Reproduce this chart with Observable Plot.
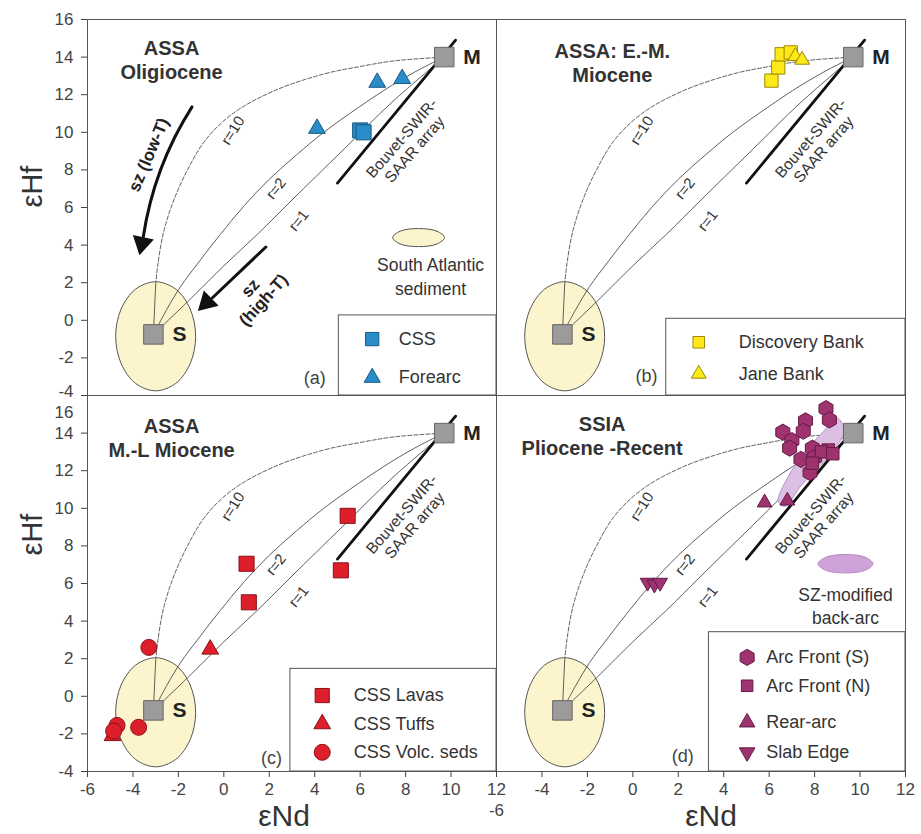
<!DOCTYPE html>
<html><head><meta charset="utf-8">
<script src="https://cdn.jsdelivr.net/npm/d3@7"></script>
<script src="https://cdn.jsdelivr.net/npm/@observablehq/plot@0.6"></script>
<style>
body{margin:0;background:#fff;}
#fig{position:relative;width:921px;height:834px;}
#fig svg{position:absolute;left:0;top:0;}
</style></head><body><div id="fig"></div>
<script>
// ---------- data (εNd, εHf) ----------
const xTicks = [-6,-4,-2,0,2,4,6,8,10,12];
const yTicks = [-4,-2,0,2,4,6,8,10,12,14,16];

const endMembers = [{name:"S", x:-3.1, y:-0.75}, {name:"M", x:9.7, y:14.0}];

const mixR10 = [[-3.1,-0.75],[-3.0,1.9],[-2.9,3.0],[-2.65,4.7],[-2.2,6.4],[-1.6,8.0],[-0.8,9.6],[0.4,11.0],[2.2,12.2],[4.4,13.1],[6.0,13.5],[7.5,13.8],[9.7,14.0]];
const mixR2  = [[-3.1,-0.75],[-2.5,0.6],[-1.9,1.8],[-1.1,3.1],[-0.2,4.5],[0.9,6.1],[2.0,7.5],[3.2,8.8],[4.4,10.0],[5.9,11.3],[7.4,12.5],[8.7,13.4],[9.7,14.0]];
const mixR1  = [[-3.1,-0.75],[-1.5,1.1],[0.0,2.9],[1.5,4.6],[3.0,6.4],[5.2,9.0],[7.4,11.6],[9.7,14.0]];
const mixLabels = [{text:"r=10", x:0.4, y:10.1}, {text:"r=2", x:2.3, y:7.0}, {text:"r=1", x:3.3, y:5.3}];

const bouvetArray = [[5.0,7.3],[10.2,14.9]];
const arrayLabel = [{text:"Bouvet-SWIR-\nSAAR array", x:8.1, y:9.4}];

const sedimentField = [[-1.24,-0.85],[-1.48,0.6],[-2.12,1.66],[-3.0,2.05],[-3.88,1.66],[-4.52,0.6],[-4.76,-0.85],[-4.52,-2.3],[-3.88,-3.36],[-3.0,-3.75],[-2.12,-3.36],[-1.48,-2.3]];

// panel (a)
const titleA = [{text:"ASSA\nOligiocene", x:-2.3, y:13.9}];
const cssA = [[6.0,10.1],[6.15,10.0]];
const forearcA = [[4.1,10.2],[6.75,12.65],[7.85,12.85]];
const szArrows = [{x1:-1.4, y1:11.35, x2:-3.55, y2:4.4}, {x1:1.85, y1:3.9, x2:-0.5, y2:1.2}];
const szHeads = [{x:-3.6, y:4.1}, {x:-0.75, y:0.95}];
const szLabels = [{text:"sz (low-T)", x:-3.3, y:8.8}, {text:"sz\n(high-T)", x:1.45, y:1.4}];
const sedLegendShape = [[9.71,4.4],[9.38,4.74],[8.57,4.88],[7.76,4.74],[7.43,4.4],[7.76,4.06],[8.57,3.92],[9.38,4.06]];
const sedLegendText = [{text:"South Atlantic\nsediment", x:9.1, y:2.4}];
const letterA = [{text:"(a)", x:4.0, y:-3.1}];

// panel (b)
const titleB = [{text:"ASSA: E.-M.\nMiocene", x:-0.9, y:13.7}];
const discoveryB = [[6.1,12.75],[6.4,13.45],[6.55,14.15],[6.95,14.25]];
const janeB = [[7.15,14.05],[7.45,13.85]];
const letterB = [{text:"(b)", x:0.6, y:-3.0}];

// panel (c)
const titleC = [{text:"ASSA\nM.-L Miocene", x:-2.3, y:13.75}];
const lavasC = [[1.0,7.05],[1.1,5.0],[5.45,9.6],[5.15,6.7]];
const tuffsC = [[-0.6,2.5],[-4.9,-2.1]];
const volcC = [[-3.3,2.6],[-4.7,-1.55],[-4.85,-1.85],[-3.75,-1.65]];
const letterC = [{text:"(c)", x:2.1, y:-3.3}];

// panel (d)
const titleD = [{text:"SSIA\nPliocene -Recent", x:-1.35, y:13.9}];
const arcFrontS = [[6.6,14.05],[7.0,13.6],[6.9,13.2],[7.6,14.65],[7.5,14.1],[8.5,15.3],[8.65,14.7],[7.9,13.2],[7.4,12.6],[8.0,12.7],[7.8,11.9]];
const arcFrontN = [[8.6,13.1],[8.3,13.0],[7.9,12.4],[8.8,12.9]];
const rearArc = [[5.8,10.3],[6.8,10.4]];
const slabEdge = [[0.65,6.05],[0.95,5.95],[1.2,6.05]];
const szField = [[6.4,10.4],[6.7,10.1],[7.4,11.2],[8.5,12.6],[9.3,14.1],[9.0,14.8],[8.4,14.1],[7.5,12.9],[6.8,11.6]];
const szLegendShape = [[10.57,7.05],[10.22,7.4],[9.36,7.54],[8.5,7.4],[8.15,7.05],[8.5,6.7],[9.36,6.56],[10.22,6.7]];
const szLegendText = [{text:"SZ-modified\nback-arc", x:9.36, y:4.85}];
const letterD = [{text:"(d)", x:2.2, y:-3.2}];

// legends
const legendA = {box:{x1:5.06, x2:12, y1:-4, y2:0.26}, symX:6.53, textX:7.7,
  items:[{label:"CSS", y:-1.0}, {label:"Forearc", y:-3.05}]};
const legendB = {box:{x1:1.47, x2:12, y1:-4, y2:0.08}, symX:2.9, textX:4.66,
  items:[{label:"Discovery Bank", y:-1.17}, {label:"Jane Bank", y:-2.85}]};
const legendC = {box:{x1:2.93, x2:12, y1:-4, y2:1.46}, symX:4.33, textX:5.72,
  items:[{label:"CSS Lavas", y:0.04}, {label:"CSS Tuffs", y:-1.47}, {label:"CSS Volc. seds", y:-2.98}]};
const legendD = {box:{x1:3.35, x2:12, y1:-4, y2:3.41}, symX:5.03, textX:5.87,
  items:[{label:"Arc Front (S)", y:2.07}, {label:"Arc Front (N)", y:0.56}, {label:"Rear-arc", y:-1.39}, {label:"Slab Edge", y:-2.98}]};

// ---------- drawing ----------
const FIG = {width:921, height:834, left:87, mid:496, right:905, top:19, hmid:395, bottom:771};
const font = "'Liberation Sans', Arial, sans-serif";
const X = d => d[0], Y = d => d[1];
const lineColor = "#4d4d4d";
const txt = "#333";

function panel(col, row, marks) {
  return Plot.plot({
    width: FIG.width, height: FIG.height,
    marginLeft: col ? FIG.mid : FIG.left,
    marginRight: FIG.width - (col ? FIG.right : FIG.mid),
    marginTop: row ? FIG.hmid : FIG.top,
    marginBottom: FIG.height - (row ? FIG.bottom : FIG.hmid),
    x: {domain: [-6, 12], axis: null},
    y: {domain: [-4, 16], axis: null},
    style: {background: "transparent", fontFamily: font, overflow: "visible"},
    marks
  });
}

function baseMarks() {
  return [
    Plot.line(sedimentField, {x:X, y:Y, curve:"catmull-rom-closed", fill:"#fcf4cc", stroke:"#555", strokeWidth:1}),
    Plot.line(mixR10.slice(0,2), {x:X, y:Y, stroke:lineColor, strokeWidth:0.9}),
    Plot.line(mixR10.slice(1), {x:X, y:Y, curve:"catmull-rom", stroke:lineColor, strokeWidth:0.9, strokeDasharray:"4,2"}),
    Plot.line(mixR2, {x:X, y:Y, curve:"catmull-rom", stroke:lineColor, strokeWidth:0.9}),
    Plot.line(mixR1, {x:X, y:Y, curve:"catmull-rom", stroke:lineColor, strokeWidth:0.9}),
    Plot.line(bouvetArray, {x:X, y:Y, stroke:"#111", strokeWidth:2.8}),
    Plot.text(arrayLabel, {x:"x", y:"y", text:"text", rotate:-49, fontSize:15.5, fill:txt, lineHeight:1.1}),
    Plot.text(mixLabels, {x:"x", y:"y", text:"text", rotate:d => d.text === "r=10" ? -58 : -52, fontSize:15, fill:txt})
  ];
}
function endMemberMarks() {
  return [
    Plot.dot(endMembers, {x:"x", y:"y", symbol:"square", r:11, fill:"#9b9b9b", stroke:"#666", strokeWidth:1}),
    Plot.text(endMembers, {x:"x", y:"y", text:"name", dx:19, textAnchor:"start", fontSize:21, fontWeight:"bold", fill:"#222"})
  ];
}
function frameMarks() { return [Plot.frame({stroke:"#555", strokeWidth:1})]; }
function yAxisMarks(bottomRow) {
  const low = bottomRow ? 16 : -4;   // the label that sits on the shared border
  return [
    Plot.axisY({ticks: yTicks, tickSize:6, tickPadding:8, fontSize:17, color:"#444",
      tickFormat: d => d === low ? "" : String(d), label:null}),
    Plot.axisY({ticks:[low], tickSize:0, tickPadding:14, dy: bottomRow ? 17 : -4, fontSize:17, color:"#444", tickFormat:String, label:null}),
    Plot.text(["εHf"], {frameAnchor:"left", rotate:-90, dx:-55, dy: bottomRow ? -28 : 0, fontSize:29, fill:"#333"})
  ];
}
function xAxisMarks(rightCol) {
  return [
    Plot.axisX({ticks: xTicks, tickSize:6, tickPadding:5, fontSize:17, color:"#444",
      tickFormat: d => (rightCol && d === -6) ? "" : String(d), label:null}),
    ...(rightCol ? [Plot.axisX({ticks:[-6], tickSize:0, tickPadding:11, dy:21, fontSize:17, color:"#444", tickFormat:String, label:null})] : []),
    Plot.text(["εNd"], {frameAnchor:"bottom", lineAnchor:"middle", dy:45, dx: rightCol ? 10 : -8, fontSize:30, fill:"#333"})
  ];
}
function titleMark(t) {
  return Plot.text(t, {x:"x", y:"y", text:"text", fontSize:20, fontWeight:"bold", lineHeight:1.2, fill:"#333"});
}
function letterMark(t) {
  return Plot.text(t, {x:"x", y:"y", text:"text", fontSize:18, fill:"#444"});
}
function legendMarks(lg, syms) {
  return [
    Plot.rect([lg.box], {x1:"x1", x2:"x2", y1:"y1", y2:"y2", fill:"white", stroke:"#555", strokeWidth:1}),
    ...lg.items.map((it, i) => Plot.dot([it], {x:lg.symX, y:"y", ...syms[i]})),
    Plot.text(lg.items, {x:lg.textX, y:"y", text:"label", textAnchor:"start", fontSize:18, fill:"#333"})
  ];
}

// styles
const blue = {fill:"#2a8cc8", stroke:"#185a82", strokeWidth:1};
const yellow = {fill:"#ffe81a", stroke:"#9a8a00", strokeWidth:1};
const red = {fill:"#dc1f2b", stroke:"#8c1018", strokeWidth:1};
const purple = {fill:"#9e336f", stroke:"#651a45", strokeWidth:1};

const fig = document.getElementById("fig");

// (a)
fig.appendChild(panel(0, 0, [
  ...baseMarks(),
  Plot.line(sedLegendShape, {x:X, y:Y, curve:"catmull-rom-closed", fill:"#fcf4cc", stroke:"#555", strokeWidth:1}),
  Plot.text(sedLegendText, {x:"x", y:"y", text:"text", fontSize:17.5, lineHeight:1.35, fill:"#333"}),
  Plot.arrow(szArrows.slice(0,1), {x1:"x1", y1:"y1", x2:"x2", y2:"y2", bend:-12, stroke:"#111", strokeWidth:3, headLength:0}),
  Plot.arrow(szArrows.slice(1), {x1:"x1", y1:"y1", x2:"x2", y2:"y2", stroke:"#111", strokeWidth:3, headLength:0}),
  Plot.dot(szHeads.slice(0,1), {x:"x", y:"y", symbol:"triangle", r:7, rotate:192, fill:"#111", stroke:"#111"}),
  Plot.dot(szHeads.slice(1), {x:"x", y:"y", symbol:"triangle", r:7, rotate:226, fill:"#111", stroke:"#111"}),
  Plot.text(szLabels.slice(0,1), {x:"x", y:"y", text:"text", rotate:-67, fontSize:17, fontWeight:"bold", fill:"#222"}),
  Plot.text(szLabels.slice(1), {x:"x", y:"y", text:"text", rotate:-48, fontSize:17, fontWeight:"bold", fill:"#222", lineHeight:1.05}),
  ...endMemberMarks(),
  Plot.dot(cssA, {x:X, y:Y, symbol:"square", r:8.5, ...blue}),
  Plot.dot(forearcA, {x:X, y:Y, symbol:"triangle", r:6.2, ...blue}),
  titleMark(titleA),
  ...legendMarks(legendA, [{symbol:"square", r:7.5, ...blue}, {symbol:"triangle", r:6, ...blue}]),
  letterMark(letterA),
  ...frameMarks(),
  ...yAxisMarks(false)
]));

// (b)
fig.appendChild(panel(1, 0, [
  ...baseMarks(),
  ...endMemberMarks(),
  Plot.dot(discoveryB, {x:X, y:Y, symbol:"square", r:7.5, ...yellow}),
  Plot.dot(janeB, {x:X, y:Y, symbol:"triangle", r:5.5, ...yellow}),
  titleMark(titleB),
  ...legendMarks(legendB, [{symbol:"square", r:6.5, ...yellow}, {symbol:"triangle", r:5.5, ...yellow}]),
  letterMark(letterB),
  ...frameMarks()
]));

// (c)
fig.appendChild(panel(0, 1, [
  ...baseMarks(),
  ...endMemberMarks(),
  Plot.dot(lavasC, {x:X, y:Y, symbol:"square", r:8.5, ...red}),
  Plot.dot(tuffsC, {x:X, y:Y, symbol:"triangle", r:6.2, ...red}),
  Plot.dot(volcC, {x:X, y:Y, symbol:"circle", r:8, ...red}),
  titleMark(titleC),
  ...legendMarks(legendC, [{symbol:"square", r:8, ...red}, {symbol:"triangle", r:6.2, ...red}, {symbol:"circle", r:8, ...red}]),
  letterMark(letterC),
  ...frameMarks(),
  ...yAxisMarks(true),
  ...xAxisMarks(false)
]));

// (d)
fig.appendChild(panel(1, 1, [
  ...baseMarks(),
  Plot.line(szField, {x:X, y:Y, curve:"catmull-rom-closed", fill:"#dcc0e3", stroke:"#b896c4", strokeWidth:1}),
  Plot.line(szLegendShape, {x:X, y:Y, curve:"catmull-rom-closed", fill:"#cfa3d9", stroke:"#b48ac0", strokeWidth:1}),
  Plot.text(szLegendText, {x:"x", y:"y", text:"text", fontSize:17.5, lineHeight:1.35, fill:"#333"}),
  ...endMemberMarks(),
  Plot.dot(rearArc, {x:X, y:Y, symbol:"triangle", r:5.5, ...purple}),
  Plot.dot(slabEdge, {x:X, y:Y, symbol:"triangle", r:5.5, rotate:180, ...purple}),
  Plot.dot(arcFrontS, {x:X, y:Y, symbol:"hexagon", r:7, ...purple}),
  Plot.dot(arcFrontN, {x:X, y:Y, symbol:"square", r:7, ...purple}),
  titleMark(titleD),
  ...legendMarks(legendD, [{symbol:"hexagon", r:7, ...purple}, {symbol:"square", r:6.5, ...purple}, {symbol:"triangle", r:5.8, ...purple}, {symbol:"triangle", r:5.8, rotate:180, ...purple}]),
  letterMark(letterD),
  ...frameMarks(),
  ...xAxisMarks(true)
]));
</script></body></html>
